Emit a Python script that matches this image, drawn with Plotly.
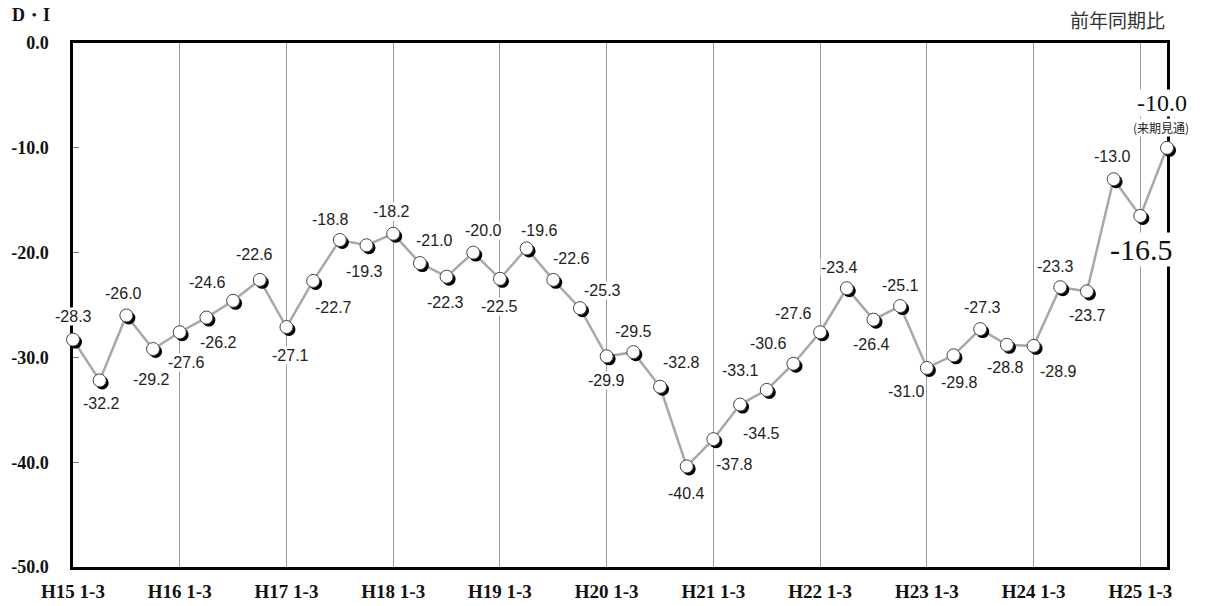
import plotly.graph_objects as go

# Quarterly D.I. (year-on-year), H15 Q1 .. H25 Q1 plus next-quarter outlook
years = ["H15", "H16", "H17", "H18", "H19", "H20", "H21", "H22", "H23", "H24", "H25"]
quarters = ["1-3", "4-6", "7-9", "10-12"]
di_values = [
    -28.3, -32.2, -26.0, -29.2,
    -27.6, -26.2, -24.6, -22.6,
    -27.1, -22.7, -18.8, -19.3,
    -18.2, -21.0, -22.3, -20.0,
    -22.5, -19.6, -22.6, -25.3,
    -29.9, -29.5, -32.8, -40.4,
    -37.8, -34.5, -33.1, -30.6,
    -27.6, -23.4, -26.4, -25.1,
    -31.0, -29.8, -27.3, -28.8,
    -28.9, -23.3, -23.7, -13.0,
    -16.5, -10.0,
]
y_ticks = [0, -10, -20, -30, -40, -50]
y_tick_text = ["0.0", "-10.0", "-20.0", "-30.0", "-40.0", "-50.0"]
outlook_note = "(来期見通)"
unit_label = "D・I"
period_label = "前年同期比"

categories = [f"{y} {q}" for y in years for q in quarters][: len(di_values)]
xs = list(range(len(di_values)))
tick_idx = [i for i, c in enumerate(categories) if c.endswith(" 1-3")]

# pixel offsets (dx right, dy down) for each value label
label_offsets = [
    (0, -23), (2, 23), (-3, -22), (-2, 30),
    (7, 30), (12, 25), (-26, -18), (-5, -25),
    (4, 28), (20, 27), (-9, -21), (-2, 26),
    (-2, -22), (15, -23), (-1, 26), (10, -22),
    (0, 28), (13, -18), (18, -21), (23, -18),
    (0, 24), (0, -21), (21, -24), (0, 27),
    (21, 25), (21, 29), (-26, -19), (-25, -20),
    (-27, -19), (-7, -21), (-2, 25), (0, -21),
    (-20, 24), (6, 27), (2, -22), (-1, 23),
    (25, 26), (-5, -21), (1, 24), (-1, -23),
]

# frame of the plotting area, in page pixels
W, H = 1206, 606
LEFT, RIGHT, TOP, BOTTOM = 73, 1167, 43, 567
x_range = [0, len(di_values) - 1]
y_range = [-50, 0]
px_per_x = (RIGHT - LEFT) / (x_range[1] - x_range[0])
px_per_y = (BOTTOM - TOP) / (y_range[1] - y_range[0])
shadow_px = 2.5


def full_page_range_x(shift_px):
    # data range of a full-width axis sharing the main x scale, moved right by shift_px
    return [(0 - LEFT - shift_px) / px_per_x, (W - LEFT - shift_px) / px_per_x]


def full_page_range_y(shift_px):
    # data range of a full-height axis sharing the main y scale, moved down by shift_px
    return [-(H - TOP - shift_px) / px_per_y, (TOP + shift_px) / px_per_y]


SERIF = "Liberation Serif, Times New Roman, serif"
SANS = "Liberation Sans, Arial, sans-serif"
CJK = "Noto Sans CJK JP, sans-serif"

fig = go.Figure()

fig.add_trace(go.Scatter(
    x=xs, y=di_values, mode="lines",
    line=dict(color="#a8a8a8", width=2.5),
    hoverinfo="skip", showlegend=False, cliponaxis=False,
))
# dark shadow under each bead
fig.add_trace(go.Scatter(
    x=xs, y=di_values, mode="markers", xaxis="x2", yaxis="y2",
    marker=dict(size=13, color="#000000", line=dict(width=0)),
    hoverinfo="skip", showlegend=False, cliponaxis=False,
))
# white bead on top
fig.add_trace(go.Scatter(
    x=xs, y=di_values, mode="markers", xaxis="x3", yaxis="y3",
    marker=dict(size=13, color="#ffffff", line=dict(color="#444444", width=1)),
    showlegend=False, cliponaxis=False,
))

annotations = []
for i, v in enumerate(di_values[: len(label_offsets)]):
    dx, dy = label_offsets[i]
    annotations.append(dict(
        x=xs[i], y=v, xref="x", yref="y", text=f"{v:.1f}", showarrow=False,
        xshift=dx, yshift=-dy, font=dict(family=SANS, size=16, color="#222222"),
        bgcolor="#ffffff", borderpad=0,
    ))

# current quarter, emphasised
i_cur = len(di_values) - 2
annotations.append(dict(
    x=xs[i_cur], y=di_values[i_cur], text=f"{di_values[i_cur]:.1f}", showarrow=False,
    xshift=1, yshift=-34, font=dict(family=SERIF, size=30, color="#111111"),
    bgcolor="#ffffff", borderpad=0,
))
# next-quarter outlook
i_next = len(di_values) - 1
annotations.append(dict(
    x=xs[i_next], y=di_values[i_next], text=f"{di_values[i_next]:.1f}", showarrow=False,
    xshift=-5, yshift=45, font=dict(family=SERIF, size=24, color="#111111"),
    bgcolor="#ffffff", borderpad=0,
))
annotations.append(dict(
    x=xs[i_next], y=di_values[i_next], text=outlook_note, showarrow=False,
    xshift=-6, yshift=20, font=dict(family=CJK, size=12, color="#222222"),
    bgcolor="#ffffff", borderpad=0,
))
annotations.append(dict(
    xref="paper", yref="paper", x=10 / W, y=1 - 15 / H,
    xanchor="left", yanchor="middle",
    text=f"<b>{unit_label}</b>", showarrow=False,
    font=dict(family=SERIF, size=18, color="#111111"),
))
annotations.append(dict(
    xref="paper", yref="paper", x=RIGHT / W, y=1 - 20 / H,
    xanchor="right", yanchor="middle",
    text=period_label, showarrow=False,
    font=dict(family=CJK, size=19, color="#333333"),
))

hidden = dict(visible=False, showgrid=False, zeroline=False, automargin=False)

fig.update_layout(
    width=W, height=H,
    margin=dict(l=0, r=0, t=0, b=0, pad=0),
    paper_bgcolor="#ffffff", plot_bgcolor="rgba(0,0,0,0)",
    showlegend=False,
    annotations=annotations,
    xaxis=dict(
        domain=[LEFT / W, RIGHT / W], anchor="y",
        range=x_range, tickmode="array", tickvals=tick_idx,
        ticktext=[f"<b>{categories[i]}</b>" for i in tick_idx],
        showgrid=True, gridcolor="#9a9a9a", gridwidth=1,
        showline=True, linecolor="#000000", linewidth=2.5, mirror=True,
        ticks="", ticklabelstandoff=5, zeroline=False, automargin=False,
        tickfont=dict(family=SERIF, size=19, color="#111111"),
    ),
    yaxis=dict(
        domain=[1 - BOTTOM / H, 1 - TOP / H], anchor="x",
        range=y_range, tickmode="array", tickvals=y_ticks,
        ticktext=[f"<b>{t}</b>" for t in y_tick_text],
        showgrid=False, zeroline=False, automargin=False,
        showline=True, linecolor="#000000", linewidth=2.5, mirror=True,
        ticks="inside", ticklen=6, tickcolor="#777777", tickwidth=1,
        ticklabelstandoff=18,
        tickfont=dict(family=SERIF, size=18, color="#111111"),
    ),
    xaxis2=dict(domain=[0, 1], anchor="y2", range=full_page_range_x(shadow_px), **hidden),
    yaxis2=dict(domain=[0, 1], anchor="x2", range=full_page_range_y(shadow_px), **hidden),
    xaxis3=dict(domain=[0, 1], anchor="y3", range=full_page_range_x(0), **hidden),
    yaxis3=dict(domain=[0, 1], anchor="x3", range=full_page_range_y(0), **hidden),
)

fig.write_html("out.html")
